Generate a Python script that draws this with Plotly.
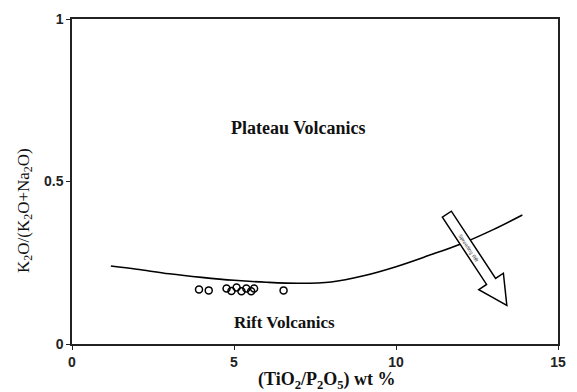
import plotly.graph_objects as go
import numpy as np

# boundary curve (TiO2/P2O5 vs K2O/(K2O+Na2O))
curve_x = [1.2, 2, 3, 4, 5, 6, 7, 8, 9, 10, 11, 12, 13, 13.9]
curve_y = [0.24, 0.23, 0.216, 0.205, 0.196, 0.19, 0.187, 0.191, 0.21, 0.238, 0.272, 0.308, 0.352, 0.397]

# sample points
pts_x = [3.92, 4.22, 4.77, 4.92, 5.08, 5.23, 5.38, 5.53, 5.62, 6.53]
pts_y = [0.168, 0.165, 0.171, 0.163, 0.174, 0.162, 0.171, 0.162, 0.171, 0.165]

# axis ticks
x_ticks = [0, 5, 10, 15]
y_ticks = [0, 0.5, 1]

W, H = 577, 392
ML, MR, MT, MB = 72, 11, 16, 48
PW, PH = W - ML - MR, H - MT - MB
XR, YR = (0, 15), (0, 1)

def to_data(px, py):
    return (XR[0] + (px - ML) / PW * (XR[1] - XR[0]),
            YR[0] + (H - MB - py) / PH * (YR[1] - YR[0]))

fig = go.Figure()
fig.add_trace(go.Scatter(x=curve_x, y=curve_y, mode="lines",
                         line=dict(color="black", width=1.6, shape="spline", smoothing=1.0),
                         hoverinfo="skip", showlegend=False))
fig.add_trace(go.Scatter(x=pts_x, y=pts_y, mode="markers",
                         marker=dict(symbol="circle-open", size=7, color="black", line=dict(width=1.5)),
                         showlegend=False))

# hollow arrow (drawn in pixel space, converted to data coords)
A = np.array([453.0, 213.0]); T = np.array([514.0, 305.0])
u = (T - A) / np.linalg.norm(T - A); n = np.array([-u[1], u[0]])
B = T - 29 * u
poly = [A + 5.5 * n, B + 5.5 * n, B + 15 * n, T, B - 15 * n, B - 5.5 * n, A - 5.5 * n]
path = "M " + " L ".join("%f,%f" % to_data(*p) for p in poly) + " Z"
fig.add_shape(type="path", path=path, xref="x", yref="y", line=dict(color="black", width=1.5), fillcolor="white")
mid = (A + B) / 2
mx, my = to_data(*mid)
ang = float(np.degrees(np.arctan2(u[1], u[0])))
fig.add_annotation(x=mx, y=my, xref="x", yref="y", text="Spreading Rift", showarrow=False, textangle=ang,
                   font=dict(family="Liberation Sans", size=5, color="#333"))

fig.add_annotation(x=7.0, y=0.665, text="<b>Plateau Volcanics</b>", showarrow=False,
                   font=dict(family="Liberation Serif", size=18, color="#111"))
fig.add_annotation(x=6.56, y=0.067, text="<b>Rift Volcanics</b>", showarrow=False,
                   font=dict(family="Liberation Serif", size=17, color="#111"))

# axis titles as paper annotations
fig.add_annotation(xref="paper", yref="paper", x=(331 - ML) / PW, y=(H - MB - 381) / PH,
                   xanchor="center", yanchor="middle",
                   text="<b>(TiO<sub>2</sub>/P<sub>2</sub>O<sub>5</sub>) wt %</b>", showarrow=False,
                   font=dict(family="Liberation Serif", size=18, color="#111"))
fig.add_annotation(xref="paper", yref="paper", x=(24 - ML) / PW, y=(H - MB - 209) / PH, textangle=-90,
                   xanchor="center", yanchor="middle",
                   text="K<sub>2</sub>O/(K<sub>2</sub>O+Na<sub>2</sub>O)", showarrow=False,
                   font=dict(family="Liberation Serif", size=17, color="#111"))

axis_common = dict(showgrid=False, zeroline=False, showline=True, linecolor="#222", linewidth=1.5,
                   mirror=True, ticks="outside", ticklen=4, tickcolor="#222",
                   tickfont=dict(family="Liberation Sans", size=14, color="#222", weight="bold"))
fig.update_xaxes(range=list(XR), tickvals=x_ticks, ticktext=[str(v) for v in x_ticks], **axis_common)
fig.update_yaxes(range=list(YR), tickvals=y_ticks, ticktext=["0", "0.5", "1"], **axis_common)
fig.update_layout(width=W, height=H, margin=dict(l=ML, r=MR, t=MT, b=MB), paper_bgcolor="white",
                  plot_bgcolor="white", showlegend=False)
fig.write_html("out.html")
